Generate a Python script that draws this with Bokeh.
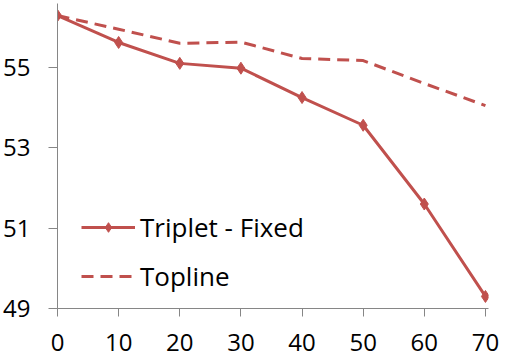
from bokeh.plotting import figure
from bokeh.models import FixedTicker, Range1d, Legend, LegendItem
from bokeh.embed import file_html
from bokeh.resources import INLINE

x_vals = [0, 10, 20, 30, 40, 50, 60, 70]
triplet_fixed = [56.29, 55.62, 55.10, 54.98, 54.25, 53.56, 51.60, 49.30]
topline = [56.29, 55.95, 55.60, 55.63, 55.22, 55.17, 54.60, 54.05]
y_ticks = [49, 51, 53, 55]
x_ticks = [0, 10, 20, 30, 40, 50, 60, 70]

RED = "#C0504D"
GRAY = "#868686"
FONT = "Open Sans"

p = figure(width=500, height=358, output_backend="svg", toolbar_location=None,
           x_range=Range1d(0, 70.5), y_range=Range1d(49, 56.59),
           min_border_left=50, min_border_right=12, min_border_top=3, min_border_bottom=50)
p.outline_line_color = None
p.xgrid.visible = False
p.ygrid.visible = False

r_top = p.line(x_vals, topline, line_color=RED, line_width=3, line_dash="12 7")
r_trip = p.line(x_vals, triplet_fixed, line_color=RED, line_width=3)
r_trip_m = p.scatter(x_vals, triplet_fixed, marker="diamond", size=12,
                     fill_color=RED, line_color=RED)

for ax in (p.xaxis[0], p.yaxis[0]):
    ax.axis_line_color = GRAY
    ax.axis_line_width = 1
    ax.major_tick_line_color = GRAY
    ax.minor_tick_line_color = None
    ax.major_tick_in = 0
    ax.major_label_text_font = FONT
    ax.major_label_text_font_size = "24px"
    ax.major_label_text_color = "black"

p.xaxis.ticker = FixedTicker(ticks=x_ticks)
p.yaxis.ticker = FixedTicker(ticks=y_ticks)
p.xaxis.major_tick_out = 8
p.yaxis.major_tick_out = 9
p.xaxis.major_label_standoff = 17
p.yaxis.major_label_standoff = 18

legend = Legend(items=[
    LegendItem(label="Triplet - Fixed", renderers=[r_trip, r_trip_m]),
    LegendItem(label="Topline", renderers=[r_top]),
], location=(24, 14))
legend.background_fill_alpha = 0
legend.border_line_color = None
legend.padding = 0
legend.margin = 0
legend.spacing = 13
legend.glyph_width = 54
legend.glyph_height = 24
legend.label_height = 24
legend.label_standoff = 5
legend.label_text_font = FONT
legend.label_text_font_size = "26px"
legend.label_text_color = "black"
p.add_layout(legend, "center")

open("out.html", "w").write(file_html(p, INLINE))
